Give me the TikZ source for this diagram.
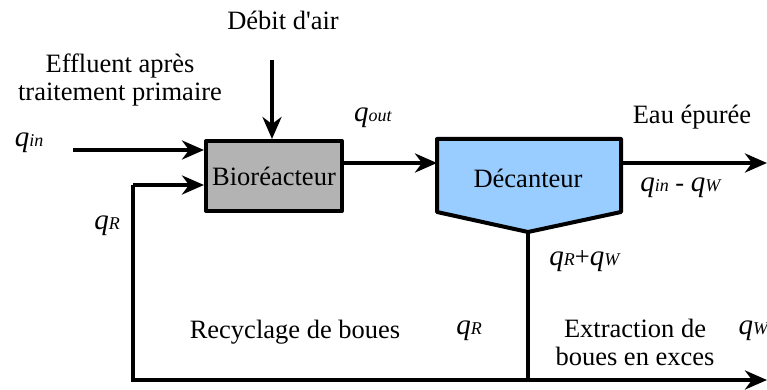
\documentclass[tikz,border=0pt]{standalone}
\usepackage{fontspec}
\setmainfont{Liberation Serif}
\usetikzlibrary{arrows.meta}
\definecolor{biogray}{HTML}{B3B3B3}
\definecolor{decblue}{HTML}{99CCFF}
\newcommand\qlab[1]{{\fontsize{29}{32}\selectfont\textit{q}}{\fontsize{18}{20}\selectfont\textit{#1}}}
\begin{document}
\begin{tikzpicture}[x=1pt,y=-1pt,
  txt/.style={font=\fontsize{26.5}{30}\selectfont, inner sep=0pt, align=center},
  flow/.style={line width=4pt, -{Stealth[length=22pt,width=19pt,inset=7pt]}},
  plain/.style={line width=4pt},
  blk/.style={line width=4pt, draw=black, line join=round}]
\useasboundingbox (0,0) rectangle (767,390);
% Bioreactor
\node[blk, fill=biogray, minimum width=136pt, minimum height=70pt, inner sep=0pt, anchor=north west] (bio) at (204,139) {};
\node[txt] (biot) at (bio.center) {Bioréacteur};
% Decanter
\coordinate (d1) at (437,139);
\coordinate (d2) at (621,139);
\coordinate (d3) at (621,212);
\coordinate (dtip) at (528,232);
\coordinate (d5) at (437,212);
\draw[blk, fill=decblue] (d1) -- (d2) -- (d3) -- (dtip) -- (d5) -- cycle;
\node[txt] (dect) at (528,178) {Décanteur};
\coordinate (decW) at (437,163);
\coordinate (decE) at (621,163);
% connectors
\coordinate (qinS) at (73,150);
\draw[flow] (qinS) -- (qinS -| bio.west);
\coordinate (airS) at (272,60);
\draw[flow] (airS) -- (airS |- bio.north);
\draw[flow] (bio.east |- decW) -- (decW);
\coordinate (eauE) at (767,163);
\draw[flow] (decE) -- (eauE);
\coordinate (rcTop) at (133,185);
\coordinate (rcBot) at (133,380);
\coordinate (junc) at (528,380);
\coordinate (outE) at (767,380);
\draw[plain] (dtip) -- (junc);
\draw[plain, line join=miter] (junc) -- (rcBot) -- (rcTop);
\draw[flow] (rcTop) -- (rcTop -| bio.west);
\draw[flow] (junc) -- (outE);
% labels
\node[txt] (air) at (283,20) {Débit d\textquotesingle air};
\node[txt] (eff) at (120,80) {Effluent après\\[-2pt]traitement primaire};
\node[txt] (qin) at (29,143) {\qlab{in}};
\node[txt] (qout) at (373,118) {\qlab{out}};
\node[txt] (eau) at (692,117) {Eau épurée};
\node[txt] (qdiff) at (681,188) {\qlab{in} - \qlab{W}};
\node[txt] (qr1) at (107,226) {\qlab{R}};
\node[txt] (qrw) at (585,261) {\qlab{R}+\qlab{W}};
\node[txt] (rec) at (295,332) {Recyclage de boues};
\node[txt] (qr2) at (469,331) {\qlab{R}};
\node[txt] (ext) at (635,342) {Extraction de\\[-2pt]boues en exces};
\node[txt] (qw) at (754,331) {\qlab{W}};
\end{tikzpicture}
\end{document}
